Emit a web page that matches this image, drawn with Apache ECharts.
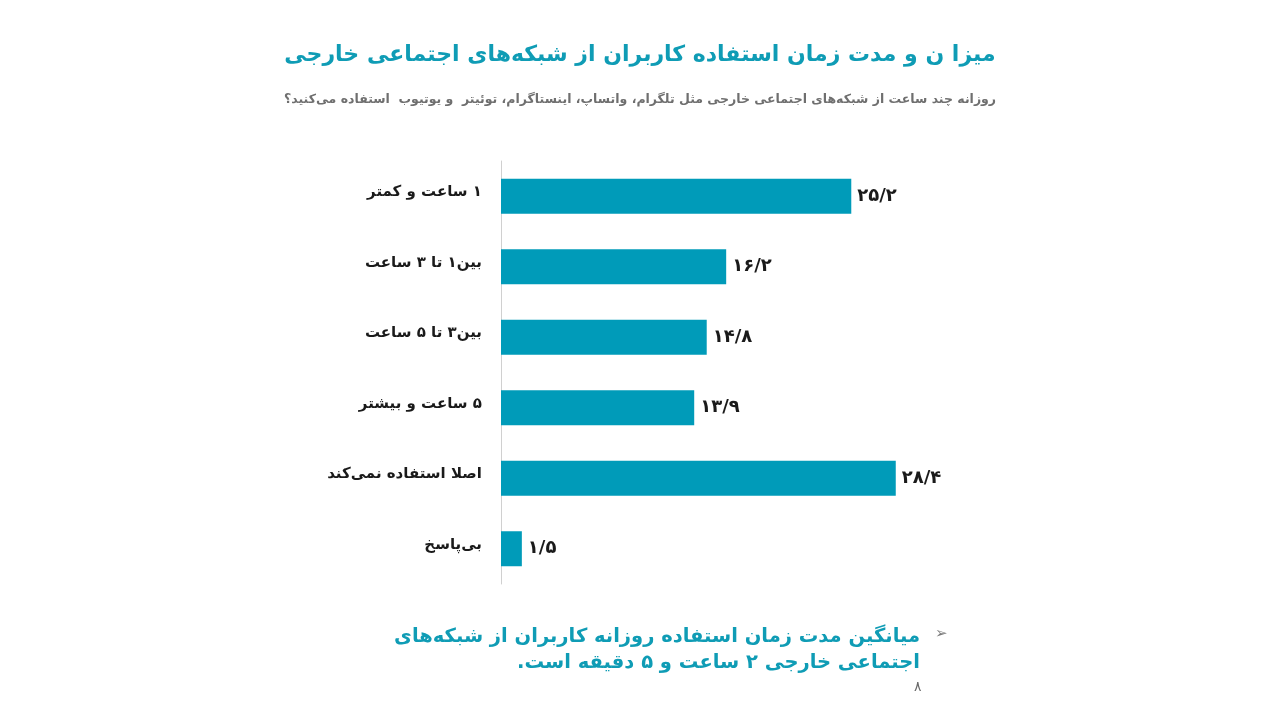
<!DOCTYPE html>
<html>
<head>
<meta charset="utf-8">
<script src="https://cdn.jsdelivr.net/npm/echarts@6/dist/echarts.min.js"></script>
<style>
html,body{margin:0;padding:0;background:#fff;}
#c{width:1280px;height:720px;}
</style>
</head>
<body>
<div id="c" dir="rtl"></div>
<script>
const categories = ["۱ ساعت و کمتر", "بین۱ تا ۳ ساعت", "بین۳ تا ۵ ساعت", "۵ ساعت و بیشتر", "اصلا استفاده نمی‌کند", "بی‌پاسخ"];
const values = [25.2, 16.2, 14.8, 13.9, 28.4, 1.5];
const titleText = "میزا ن و مدت زمان استفاده کاربران از شبکه‌های اجتماعی خارجی";
const subtitleText = "روزانه چند ساعت از شبکه‌های اجتماعی خارجی مثل تلگرام، واتساپ، اینستاگرام، توئیتر  و یوتیوب  استفاده می‌کنید؟";
const noteLine1 = "میانگین مدت زمان استفاده روزانه کاربران از شبکه‌های";
const noteLine2 = "اجتماعی خارجی ۲ ساعت و ۵ دقیقه است.";
const pageNumber = "۸";

const fa = "۰۱۲۳۴۵۶۷۸۹";
function toFa(v){
  return String(v).replace(/\d/g, d => fa[+d]).replace('.', '/');
}
const FONT = "DejaVu Sans";
const TEAL = '#0f9cb5';
const chart = echarts.init(document.getElementById('c'));
chart.setOption({
  backgroundColor: '#fff',
  textStyle: {fontFamily: FONT},
  grid: {left: 501, right: 362, top: 161, bottom: 136, containLabel: false},
  xAxis: {type: 'value', min: 0, max: 30, show: false},
  yAxis: {
    type: 'category', data: categories, inverse: true,
    axisLine: {show: true, lineStyle: {color: '#d0d0d0', width: 1}},
    axisTick: {show: false},
    axisLabel: {margin: 19, color: '#1a1a1a', fontSize: 15, fontWeight: 'bold', fontFamily: FONT,
      verticalAlign: 'bottom', lineHeight: 8}
  },
  series: [{
    type: 'bar', data: values, barWidth: 35,
    itemStyle: {color: '#009bb9'},
    label: {show: true, position: 'right', distance: 6, color: '#1a1a1a', fontSize: 18, fontWeight: 'bold', fontFamily: FONT,
      formatter: p => toFa(p.value)}
  }],
  graphic: [
    {type: 'text', left: 'center', top: 44, style: {text: titleText, fill: TEAL, font: 'bold 22px "DejaVu Sans"', align: 'center'}},
    {type: 'text', left: 'center', top: 93, style: {text: subtitleText, fill: '#6f6f6f', font: 'bold 12.5px "DejaVu Sans"', align: 'center'}},
    {type: 'text', right: 360, top: 627, style: {text: noteLine1, fill: TEAL, font: 'bold 19.5px "DejaVu Sans"'}},
    {type: 'text', right: 360, top: 653, style: {text: noteLine2, fill: TEAL, font: 'bold 19.5px "DejaVu Sans"'}},
    {type: 'text', left: 935, top: 627, style: {text: '➢', fill: '#7a7a7a', font: '15px "DejaVu Sans"'}},
    {type: 'text', left: 914, top: 680, style: {text: pageNumber, fill: '#6a6a6a', font: '14px "DejaVu Sans"'}}
  ]
});
</script>
</body>
</html>
